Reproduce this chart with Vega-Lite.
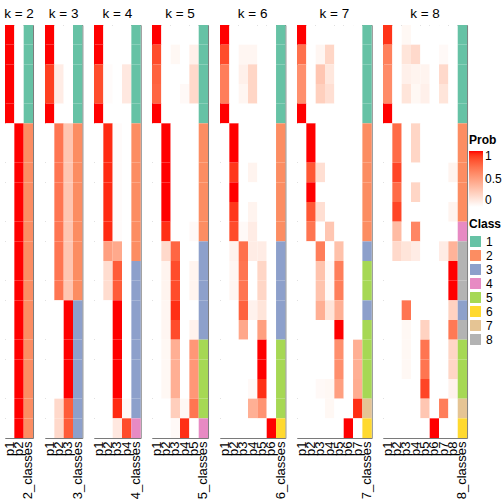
{
"$schema": "https://vega.github.io/schema/vega-lite/v6.json",
"padding": {"left": 2, "top": 6, "right": 5, "bottom": 5},
"bounds": "flush",
"spacing": 11,
"datasets": {"d": [
{"k":2,"s":1,"c":1,"p1":1,"p2":0},{"k":2,"s":2,"c":1,"p1":1,"p2":0},{"k":2,"s":3,"c":1,"p1":1,"p2":0},{"k":2,"s":4,"c":1,"p1":1,"p2":0},{"k":2,"s":5,"c":1,"p1":1,"p2":0},
{"k":2,"s":6,"c":2,"p1":0,"p2":1},{"k":2,"s":7,"c":2,"p1":0,"p2":1},{"k":2,"s":8,"c":2,"p1":0,"p2":1},{"k":2,"s":9,"c":2,"p1":0,"p2":1},{"k":2,"s":10,"c":2,"p1":0,"p2":1},{"k":2,"s":11,"c":2,"p1":0,"p2":1},{"k":2,"s":12,"c":2,"p1":0,"p2":1},{"k":2,"s":13,"c":2,"p1":0,"p2":1},{"k":2,"s":14,"c":2,"p1":0,"p2":1},{"k":2,"s":15,"c":2,"p1":0,"p2":1},{"k":2,"s":16,"c":2,"p1":0,"p2":1},{"k":2,"s":17,"c":2,"p1":0,"p2":1},{"k":2,"s":18,"c":2,"p1":0,"p2":1},{"k":2,"s":19,"c":2,"p1":0,"p2":1},{"k":2,"s":20,"c":2,"p1":0,"p2":1},{"k":2,"s":21,"c":2,"p1":0,"p2":1},

{"k":3,"s":1,"c":1,"p1":1,"p2":0,"p3":0},{"k":3,"s":2,"c":1,"p1":1,"p2":0,"p3":0},{"k":3,"s":3,"c":1,"p1":0.9,"p2":0.1,"p3":0},{"k":3,"s":4,"c":1,"p1":0.9,"p2":0.1,"p3":0},{"k":3,"s":5,"c":1,"p1":1,"p2":0,"p3":0},
{"k":3,"s":6,"c":2,"p1":0,"p2":0.7,"p3":0.3},{"k":3,"s":7,"c":2,"p1":0,"p2":0.7,"p3":0.3},{"k":3,"s":8,"c":2,"p1":0,"p2":0.7,"p3":0.3},{"k":3,"s":9,"c":2,"p1":0,"p2":0.7,"p3":0.3},{"k":3,"s":10,"c":2,"p1":0,"p2":0.7,"p3":0.3},{"k":3,"s":11,"c":2,"p1":0,"p2":0.7,"p3":0.3},{"k":3,"s":12,"c":2,"p1":0,"p2":0.7,"p3":0.3},{"k":3,"s":13,"c":2,"p1":0,"p2":0.7,"p3":0.3},{"k":3,"s":14,"c":2,"p1":0,"p2":0.7,"p3":0.3},
{"k":3,"s":15,"c":3,"p1":0,"p2":0,"p3":1},{"k":3,"s":16,"c":3,"p1":0,"p2":0,"p3":1},{"k":3,"s":17,"c":3,"p1":0,"p2":0,"p3":1},{"k":3,"s":18,"c":3,"p1":0,"p2":0,"p3":1},{"k":3,"s":19,"c":3,"p1":0,"p2":0,"p3":1},{"k":3,"s":20,"c":3,"p1":0,"p2":0.2,"p3":0.8},{"k":3,"s":21,"c":3,"p1":0,"p2":0.2,"p3":0.8},

{"k":4,"s":1,"c":1,"p1":1,"p2":0,"p3":0,"p4":0},{"k":4,"s":2,"c":1,"p1":1,"p2":0,"p3":0,"p4":0},{"k":4,"s":3,"c":1,"p1":0.86,"p2":0.02,"p3":0,"p4":0.12},{"k":4,"s":4,"c":1,"p1":0.86,"p2":0.02,"p3":0,"p4":0.12},{"k":4,"s":5,"c":1,"p1":1,"p2":0,"p3":0,"p4":0},
{"k":4,"s":6,"c":2,"p1":0,"p2":0.95,"p3":0.02,"p4":0},{"k":4,"s":7,"c":2,"p1":0,"p2":0.95,"p3":0.02,"p4":0},{"k":4,"s":8,"c":2,"p1":0,"p2":0.95,"p3":0.02,"p4":0},{"k":4,"s":9,"c":2,"p1":0,"p2":0.95,"p3":0.02,"p4":0},{"k":4,"s":10,"c":2,"p1":0,"p2":0.95,"p3":0.02,"p4":0},{"k":4,"s":11,"c":2,"p1":0,"p2":0.95,"p3":0.02,"p4":0},{"k":4,"s":12,"c":2,"p1":0,"p2":0.5,"p3":0.45,"p4":0},
{"k":4,"s":13,"c":3,"p1":0,"p2":0.18,"p3":0.8,"p4":0},{"k":4,"s":14,"c":3,"p1":0,"p2":0.18,"p3":0.8,"p4":0},{"k":4,"s":15,"c":3,"p1":0,"p2":0,"p3":1,"p4":0},{"k":4,"s":16,"c":3,"p1":0,"p2":0,"p3":1,"p4":0},{"k":4,"s":17,"c":3,"p1":0,"p2":0,"p3":1,"p4":0},{"k":4,"s":18,"c":3,"p1":0,"p2":0,"p3":1,"p4":0},{"k":4,"s":19,"c":3,"p1":0,"p2":0,"p3":1,"p4":0},{"k":4,"s":20,"c":3,"p1":0,"p2":0,"p3":0.95,"p4":0.03},{"k":4,"s":21,"c":4,"p1":0,"p2":0,"p3":0.12,"p4":0.86},

{"k":5,"s":1,"c":1,"p1":1,"p2":0,"p3":0,"p4":0,"p5":0},{"k":5,"s":2,"c":1,"p1":0.86,"p2":0,"p3":0.04,"p4":0,"p5":0.08},{"k":5,"s":3,"c":1,"p1":0.78,"p2":0,"p3":0,"p4":0,"p5":0.2},{"k":5,"s":4,"c":1,"p1":0.76,"p2":0,"p3":0,"p4":0.03,"p5":0.2},{"k":5,"s":5,"c":1,"p1":1,"p2":0,"p3":0,"p4":0,"p5":0},
{"k":5,"s":6,"c":2,"p1":0,"p2":1,"p3":0,"p4":0,"p5":0},{"k":5,"s":7,"c":2,"p1":0,"p2":1,"p3":0,"p4":0,"p5":0},{"k":5,"s":8,"c":2,"p1":0,"p2":1,"p3":0,"p4":0,"p5":0},{"k":5,"s":9,"c":2,"p1":0,"p2":1,"p3":0,"p4":0,"p5":0},{"k":5,"s":10,"c":2,"p1":0,"p2":1,"p3":0,"p4":0,"p5":0},{"k":5,"s":11,"c":2,"p1":0,"p2":0.94,"p3":0,"p4":0,"p5":0.03},
{"k":5,"s":12,"c":3,"p1":0,"p2":0.2,"p3":0.76,"p4":0,"p5":0},{"k":5,"s":13,"c":3,"p1":0,"p2":0.06,"p3":0.86,"p4":0,"p5":0.06},{"k":5,"s":14,"c":3,"p1":0,"p2":0.06,"p3":0.86,"p4":0,"p5":0.06},{"k":5,"s":15,"c":3,"p1":0,"p2":0.05,"p3":0.94,"p4":0,"p5":0},{"k":5,"s":16,"c":3,"p1":0,"p2":0.05,"p3":0.86,"p4":0,"p5":0.07},
{"k":5,"s":17,"c":5,"p1":0,"p2":0.04,"p3":0.42,"p4":0,"p5":0.54},{"k":5,"s":18,"c":5,"p1":0,"p2":0.04,"p3":0.42,"p4":0,"p5":0.54},{"k":5,"s":19,"c":5,"p1":0,"p2":0.04,"p3":0.42,"p4":0,"p5":0.54},{"k":5,"s":20,"c":5,"p1":0,"p2":0,"p3":0.26,"p4":0.04,"p5":0.7},{"k":5,"s":21,"c":4,"p1":0,"p2":0,"p3":0.03,"p4":0.94,"p5":0},

{"k":6,"s":1,"c":1,"p1":1,"p2":0,"p3":0,"p4":0,"p5":0,"p6":0},{"k":6,"s":2,"c":1,"p1":0.86,"p2":0,"p3":0.05,"p4":0.05,"p5":0,"p6":0},{"k":6,"s":3,"c":1,"p1":0.66,"p2":0,"p3":0.08,"p4":0.22,"p5":0,"p6":0},{"k":6,"s":4,"c":1,"p1":0.66,"p2":0,"p3":0.05,"p4":0.22,"p5":0,"p6":0},{"k":6,"s":5,"c":1,"p1":1,"p2":0,"p3":0,"p4":0,"p5":0,"p6":0},
{"k":6,"s":6,"c":2,"p1":0,"p2":1,"p3":0,"p4":0,"p5":0,"p6":0},{"k":6,"s":7,"c":2,"p1":0,"p2":1,"p3":0,"p4":0,"p5":0,"p6":0},{"k":6,"s":8,"c":2,"p1":0,"p2":0.92,"p3":0,"p4":0.06,"p5":0,"p6":0},{"k":6,"s":9,"c":2,"p1":0,"p2":1,"p3":0,"p4":0,"p5":0,"p6":0},{"k":6,"s":10,"c":2,"p1":0,"p2":0.92,"p3":0,"p4":0.06,"p5":0,"p6":0},{"k":6,"s":11,"c":2,"p1":0,"p2":0.86,"p3":0.03,"p4":0.1,"p5":0,"p6":0},
{"k":6,"s":12,"c":3,"p1":0,"p2":0.07,"p3":0.72,"p4":0.1,"p5":0.1,"p6":0},{"k":6,"s":13,"c":3,"p1":0,"p2":0.05,"p3":0.7,"p4":0,"p5":0.22,"p6":0},{"k":6,"s":14,"c":3,"p1":0,"p2":0.05,"p3":0.7,"p4":0,"p5":0.22,"p6":0},{"k":6,"s":15,"c":3,"p1":0,"p2":0,"p3":0.78,"p4":0.07,"p5":0.14,"p6":0},{"k":6,"s":16,"c":3,"p1":0,"p2":0,"p3":0.46,"p4":0,"p5":0.5,"p6":0},
{"k":6,"s":17,"c":5,"p1":0,"p2":0,"p3":0,"p4":0,"p5":1,"p6":0},{"k":6,"s":18,"c":5,"p1":0,"p2":0,"p3":0,"p4":0,"p5":1,"p6":0},{"k":6,"s":19,"c":5,"p1":0,"p2":0,"p3":0,"p4":0.03,"p5":0.94,"p6":0},{"k":6,"s":20,"c":5,"p1":0,"p2":0,"p3":0,"p4":0.42,"p5":0.56,"p6":0},{"k":6,"s":21,"c":6,"p1":0,"p2":0,"p3":0,"p4":0,"p5":0,"p6":1},

{"k":7,"s":1,"c":1,"p1":1,"p2":0,"p3":0,"p4":0,"p5":0,"p6":0,"p7":0},{"k":7,"s":2,"c":1,"p1":0.72,"p2":0,"p3":0.05,"p4":0.22,"p5":0,"p6":0,"p7":0},{"k":7,"s":3,"c":1,"p1":0.58,"p2":0,"p3":0.3,"p4":0.13,"p5":0,"p6":0,"p7":0},{"k":7,"s":4,"c":1,"p1":0.58,"p2":0,"p3":0.25,"p4":0.17,"p5":0,"p6":0,"p7":0},{"k":7,"s":5,"c":1,"p1":1,"p2":0,"p3":0,"p4":0,"p5":0,"p6":0,"p7":0},
{"k":7,"s":6,"c":2,"p1":0,"p2":1,"p3":0,"p4":0,"p5":0,"p6":0,"p7":0},{"k":7,"s":7,"c":2,"p1":0,"p2":1,"p3":0,"p4":0,"p5":0,"p6":0,"p7":0},{"k":7,"s":8,"c":2,"p1":0,"p2":0.82,"p3":0.17,"p4":0,"p5":0,"p6":0,"p7":0},{"k":7,"s":9,"c":2,"p1":0,"p2":1,"p3":0,"p4":0,"p5":0,"p6":0,"p7":0},{"k":7,"s":10,"c":2,"p1":0,"p2":0.82,"p3":0.17,"p4":0,"p5":0,"p6":0,"p7":0},{"k":7,"s":11,"c":2,"p1":0,"p2":0.7,"p3":0,"p4":0.3,"p5":0,"p6":0,"p7":0},
{"k":7,"s":12,"c":3,"p1":0,"p2":0,"p3":0.66,"p4":0,"p5":0.33,"p6":0,"p7":0},{"k":7,"s":13,"c":5,"p1":0,"p2":0,"p3":0.32,"p4":0.03,"p5":0.66,"p6":0,"p7":0},{"k":7,"s":14,"c":5,"p1":0,"p2":0,"p3":0.32,"p4":0.03,"p5":0.66,"p6":0,"p7":0},{"k":7,"s":15,"c":3,"p1":0,"p2":0,"p3":0.42,"p4":0.14,"p5":0.42,"p6":0,"p7":0},
{"k":7,"s":16,"c":5,"p1":0,"p2":0,"p3":0,"p4":0,"p5":1,"p6":0,"p7":0},{"k":7,"s":17,"c":5,"p1":0,"p2":0,"p3":0,"p4":0,"p5":0.58,"p6":0,"p7":0.42},{"k":7,"s":18,"c":5,"p1":0,"p2":0,"p3":0,"p4":0,"p5":0.58,"p6":0,"p7":0.42},{"k":7,"s":19,"c":5,"p1":0,"p2":0,"p3":0.03,"p4":0.04,"p5":0.5,"p6":0,"p7":0.43},{"k":7,"s":20,"c":7,"p1":0,"p2":0,"p3":0,"p4":0.04,"p5":0,"p6":0,"p7":0.94},{"k":7,"s":21,"c":6,"p1":0,"p2":0,"p3":0,"p4":0,"p5":0,"p6":1,"p7":0},

{"k":8,"s":1,"c":1,"p1":0.93,"p2":0,"p3":0.04,"p4":0,"p5":0,"p6":0,"p7":0,"p8":0},{"k":8,"s":2,"c":1,"p1":0.65,"p2":0,"p3":0.14,"p4":0.2,"p5":0,"p6":0,"p7":0.03,"p8":0},{"k":8,"s":3,"c":1,"p1":0.6,"p2":0,"p3":0.08,"p4":0.06,"p5":0.06,"p6":0,"p7":0.2,"p8":0},{"k":8,"s":4,"c":1,"p1":0.6,"p2":0,"p3":0.14,"p4":0.04,"p5":0.08,"p6":0,"p7":0.14,"p8":0},{"k":8,"s":5,"c":1,"p1":1,"p2":0,"p3":0,"p4":0,"p5":0,"p6":0,"p7":0,"p8":0},
{"k":8,"s":6,"c":2,"p1":0,"p2":0.74,"p3":0,"p4":0.22,"p5":0,"p6":0,"p7":0,"p8":0},{"k":8,"s":7,"c":2,"p1":0,"p2":0.74,"p3":0,"p4":0.22,"p5":0,"p6":0,"p7":0,"p8":0},{"k":8,"s":8,"c":2,"p1":0,"p2":0.88,"p3":0,"p4":0,"p5":0,"p6":0,"p7":0,"p8":0.06},{"k":8,"s":9,"c":2,"p1":0,"p2":0.74,"p3":0,"p4":0.22,"p5":0,"p6":0,"p7":0,"p8":0},{"k":8,"s":10,"c":2,"p1":0,"p2":0.88,"p3":0,"p4":0,"p5":0,"p6":0,"p7":0,"p8":0.06},
{"k":8,"s":11,"c":4,"p1":0,"p2":0.36,"p3":0,"p4":0.62,"p5":0,"p6":0,"p7":0,"p8":0},{"k":8,"s":12,"c":8,"p1":0,"p2":0.2,"p3":0.14,"p4":0.1,"p5":0,"p6":0,"p7":0.1,"p8":0.4},{"k":8,"s":13,"c":8,"p1":0,"p2":0,"p3":0,"p4":0,"p5":0,"p6":0,"p7":0,"p8":1},{"k":8,"s":14,"c":8,"p1":0,"p2":0,"p3":0,"p4":0,"p5":0,"p6":0,"p7":0,"p8":1},
{"k":8,"s":15,"c":3,"p1":0,"p2":0,"p3":0.7,"p4":0,"p5":0,"p6":0,"p7":0,"p8":0.24},{"k":8,"s":16,"c":8,"p1":0,"p2":0,"p3":0.04,"p4":0,"p5":0.24,"p6":0,"p7":0,"p8":0.68},{"k":8,"s":17,"c":5,"p1":0,"p2":0,"p3":0.04,"p4":0,"p5":0.7,"p6":0,"p7":0,"p8":0.22},{"k":8,"s":18,"c":5,"p1":0,"p2":0,"p3":0.04,"p4":0,"p5":0.7,"p6":0,"p7":0,"p8":0.22},{"k":8,"s":19,"c":5,"p1":0,"p2":0,"p3":0,"p4":0,"p5":0.88,"p6":0,"p7":0,"p8":0.07},{"k":8,"s":20,"c":7,"p1":0,"p2":0,"p3":0,"p4":0,"p5":0.3,"p6":0,"p7":0.66,"p8":0},{"k":8,"s":21,"c":6,"p1":0,"p2":0,"p3":0,"p4":0,"p5":0,"p6":1,"p7":0,"p8":0}
]},
"resolve": {"scale": {"x": "independent", "y": "shared", "color": "shared", "fill": "shared"}},
"hconcat": [
{"width": 28.02, "height": 413, "title": "k = 2", "data": {"name": "d"}, "layer": [
 {"transform": [{"filter": "datum.k == 2"}, {"fold": ["p1","p2"]}], "mark": "rect",
  "encoding": {"x": {"field": "key", "type": "nominal", "title": null, "scale": {"domain": ["p1","p2","2_classes"], "paddingInner": 0, "paddingOuter": 0}},
   "y": {"field": "s", "type": "ordinal", "axis": null, "scale": {"paddingInner": 0, "paddingOuter": 0}},
   "color": {"field": "value", "type": "quantitative", "title": "Prob", "scale": {"domain": [0,1], "range": ["#FFFFFF","#FF0000"], "interpolate": "lab"}, "legend": {"orient": "none", "legendX": 464, "legendY": 110, "gradientLength": 56, "gradientThickness": 14, "values": [0,0.5,1], "format": "~g", "direction": "vertical"}}}},
 {"transform": [{"filter": "datum.k == 2"}], "mark": "rect",
  "encoding": {"x": {"datum": "2_classes", "type": "nominal", "title": null}, "y": {"field": "s", "type": "ordinal", "axis": null},
   "fill": {"field": "c", "type": "nominal", "title": "Class", "scale": {"domain": [1,2,3,4,5,6,7,8], "range": ["#66C2A5","#FC8D62","#8DA0CB","#E78AC3","#A6D854","#FFD92F","#E5C494","#B3B3B3"]}, "legend": {"orient": "none", "legendX": 464, "legendY": 194, "symbolType": "square", "symbolSize": 120, "rowPadding": 1}}}}
]},
{"width": 37.36, "height": 413, "title": "k = 3", "data": {"name": "d"}, "layer": [
 {"transform": [{"filter": "datum.k == 3"}, {"fold": ["p1","p2","p3"]}], "mark": "rect",
  "encoding": {"x": {"field": "key", "type": "nominal", "title": null, "scale": {"domain": ["p1","p2","p3","3_classes"], "paddingInner": 0, "paddingOuter": 0}},
   "y": {"field": "s", "type": "ordinal", "axis": null},
   "color": {"field": "value", "type": "quantitative", "title": "Prob"}}},
 {"transform": [{"filter": "datum.k == 3"}], "mark": "rect",
  "encoding": {"x": {"datum": "3_classes", "type": "nominal", "title": null}, "y": {"field": "s", "type": "ordinal", "axis": null},
   "fill": {"field": "c", "type": "nominal", "title": "Class"}}}
]},
{"width": 46.7, "height": 413, "title": "k = 4", "data": {"name": "d"}, "layer": [
 {"transform": [{"filter": "datum.k == 4"}, {"fold": ["p1","p2","p3","p4"]}], "mark": "rect",
  "encoding": {"x": {"field": "key", "type": "nominal", "title": null, "scale": {"domain": ["p1","p2","p3","p4","4_classes"], "paddingInner": 0, "paddingOuter": 0}},
   "y": {"field": "s", "type": "ordinal", "axis": null},
   "color": {"field": "value", "type": "quantitative", "title": "Prob"}}},
 {"transform": [{"filter": "datum.k == 4"}], "mark": "rect",
  "encoding": {"x": {"datum": "4_classes", "type": "nominal", "title": null}, "y": {"field": "s", "type": "ordinal", "axis": null},
   "fill": {"field": "c", "type": "nominal", "title": "Class"}}}
]},
{"width": 56.04, "height": 413, "title": "k = 5", "data": {"name": "d"}, "layer": [
 {"transform": [{"filter": "datum.k == 5"}, {"fold": ["p1","p2","p3","p4","p5"]}], "mark": "rect",
  "encoding": {"x": {"field": "key", "type": "nominal", "title": null, "scale": {"domain": ["p1","p2","p3","p4","p5","5_classes"], "paddingInner": 0, "paddingOuter": 0}},
   "y": {"field": "s", "type": "ordinal", "axis": null},
   "color": {"field": "value", "type": "quantitative", "title": "Prob"}}},
 {"transform": [{"filter": "datum.k == 5"}], "mark": "rect",
  "encoding": {"x": {"datum": "5_classes", "type": "nominal", "title": null}, "y": {"field": "s", "type": "ordinal", "axis": null},
   "fill": {"field": "c", "type": "nominal", "title": "Class"}}}
]},
{"width": 65.38, "height": 413, "title": "k = 6", "data": {"name": "d"}, "layer": [
 {"transform": [{"filter": "datum.k == 6"}, {"fold": ["p1","p2","p3","p4","p5","p6"]}], "mark": "rect",
  "encoding": {"x": {"field": "key", "type": "nominal", "title": null, "scale": {"domain": ["p1","p2","p3","p4","p5","p6","6_classes"], "paddingInner": 0, "paddingOuter": 0}},
   "y": {"field": "s", "type": "ordinal", "axis": null},
   "color": {"field": "value", "type": "quantitative", "title": "Prob"}}},
 {"transform": [{"filter": "datum.k == 6"}], "mark": "rect",
  "encoding": {"x": {"datum": "6_classes", "type": "nominal", "title": null}, "y": {"field": "s", "type": "ordinal", "axis": null},
   "fill": {"field": "c", "type": "nominal", "title": "Class"}}}
]},
{"width": 74.72, "height": 413, "title": "k = 7", "data": {"name": "d"}, "layer": [
 {"transform": [{"filter": "datum.k == 7"}, {"fold": ["p1","p2","p3","p4","p5","p6","p7"]}], "mark": "rect",
  "encoding": {"x": {"field": "key", "type": "nominal", "title": null, "scale": {"domain": ["p1","p2","p3","p4","p5","p6","p7","7_classes"], "paddingInner": 0, "paddingOuter": 0}},
   "y": {"field": "s", "type": "ordinal", "axis": null},
   "color": {"field": "value", "type": "quantitative", "title": "Prob"}}},
 {"transform": [{"filter": "datum.k == 7"}], "mark": "rect",
  "encoding": {"x": {"datum": "7_classes", "type": "nominal", "title": null}, "y": {"field": "s", "type": "ordinal", "axis": null},
   "fill": {"field": "c", "type": "nominal", "title": "Class"}}}
]},
{"width": 84.06, "height": 413, "title": "k = 8", "data": {"name": "d"}, "layer": [
 {"transform": [{"filter": "datum.k == 8"}, {"fold": ["p1","p2","p3","p4","p5","p6","p7","p8"]}], "mark": "rect",
  "encoding": {"x": {"field": "key", "type": "nominal", "title": null, "scale": {"domain": ["p1","p2","p3","p4","p5","p6","p7","p8","8_classes"], "paddingInner": 0, "paddingOuter": 0}},
   "y": {"field": "s", "type": "ordinal", "axis": null},
   "color": {"field": "value", "type": "quantitative", "title": "Prob"}}},
 {"transform": [{"filter": "datum.k == 8"}], "mark": "rect",
  "encoding": {"x": {"datum": "8_classes", "type": "nominal", "title": null}, "y": {"field": "s", "type": "ordinal", "axis": null},
   "fill": {"field": "c", "type": "nominal", "title": "Class"}}}
]}
],
"config": {
 "font": "Liberation Sans",
 "view": {"stroke": "#7a7a7a", "strokeWidth": 1},
 "title": {"fontSize": 13.5, "fontWeight": "normal", "color": "#000000", "offset": 5},
 "axisX": {"labelAngle": 270, "labelFontSize": 13, "labelColor": "#000000", "ticks": false, "domain": false, "labelPadding": 3, "labelOverlap": false, "grid": false},
 "legend": {"titleFontSize": 12, "labelFontSize": 12, "titleColor": "#000000", "labelColor": "#000000", "titleFontWeight": "bold", "titlePadding": 4}
}
}
